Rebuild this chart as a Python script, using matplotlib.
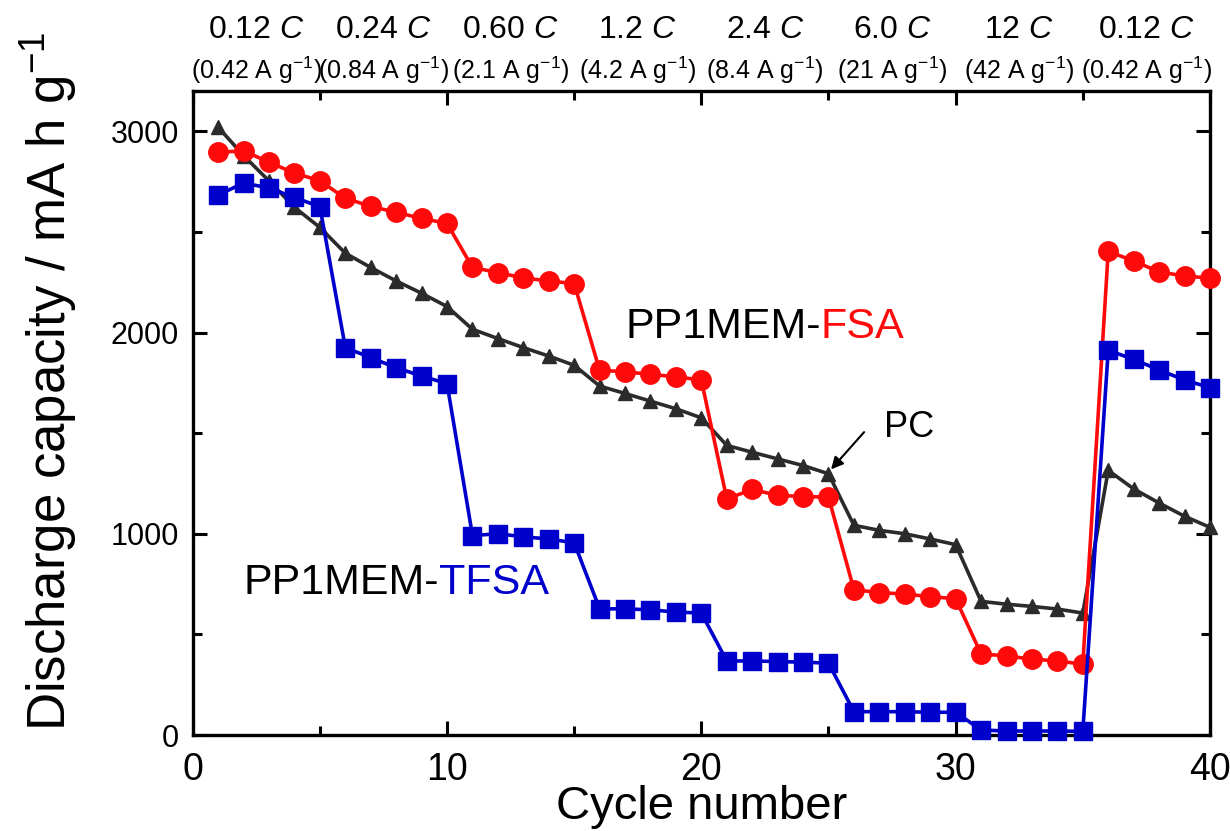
import matplotlib
matplotlib.use("Agg")
import matplotlib.pyplot as plt
import matplotlib.transforms as mtransforms
from matplotlib.ticker import MultipleLocator

# ---------------- data ----------------
cycles = list(range(1, 41))
fsa = [2895, 2903, 2846, 2792, 2754, 2667, 2627, 2597, 2567, 2542,
       2323, 2298, 2271, 2256, 2243, 1812, 1805, 1792, 1780, 1764,
       1173, 1220, 1191, 1185, 1182, 722, 708, 700, 688, 677,
       403, 393, 377, 368, 352, 2403, 2356, 2301, 2281, 2270]
tfsa = [2683, 2743, 2718, 2671, 2625, 1925, 1875, 1825, 1784, 1746,
        991, 1000, 985, 974, 955, 627, 627, 622, 611, 606,
        368, 368, 365, 362, 357, 116, 116, 116, 113, 113,
        25, 20, 20, 20, 18, 1911, 1867, 1814, 1764, 1726]
pc = [3020, 2879, 2753, 2622, 2522, 2394, 2323, 2256, 2195, 2129,
      2016, 1970, 1925, 1883, 1837, 1734, 1697, 1659, 1621, 1576,
      1439, 1405, 1372, 1339, 1298, 1042, 1017, 1000, 974, 946,
      664, 650, 639, 626, 606, 1315, 1223, 1153, 1087, 1032]

rate_labels = ["0.12 $C$", "0.24 $C$", "0.60 $C$", "1.2 $C$",
               "2.4 $C$", "6.0 $C$", "12 $C$", "0.12 $C$"]
current_labels = ["(0.42 A g$^{-1}$)", "(0.84 A g$^{-1}$)", "(2.1 A g$^{-1}$)",
                  "(4.2 A g$^{-1}$)", "(8.4 A g$^{-1}$)", "(21 A g$^{-1}$)",
                  "(42 A g$^{-1}$)", "(0.42 A g$^{-1}$)"]
rate_centers = [2.5, 7.5, 12.5, 17.5, 22.5, 27.5, 32.5, 37.5]

# ---------------- style ----------------
plt.rcParams['font.family'] = ['Liberation Sans', 'DejaVu Sans']
plt.rcParams['mathtext.fontset'] = 'custom'
plt.rcParams['mathtext.rm'] = 'Liberation Sans'
plt.rcParams['mathtext.it'] = 'Liberation Sans:italic'
plt.rcParams['mathtext.bf'] = 'Liberation Sans:bold'

RED = '#FF0A0A'
BLUE = '#0000CC'
BLACK = '#2B2B2B'

fig = plt.figure(figsize=(12.3, 8.31), dpi=100)
ax = fig.add_axes([0.1567, 0.1155, 0.8270, 0.7750])

ax.plot(cycles, pc, color=BLACK, lw=2.6, marker='^', ms=10, mec=BLACK,
        mfc=BLACK, zorder=3, clip_on=False)
ax.plot(cycles, fsa, color=RED, lw=2.6, marker='o', ms=14, mec=RED,
        mfc=RED, zorder=4, clip_on=False)
ax.plot(cycles, tfsa, color=BLUE, lw=2.6, marker='s', ms=12.5, mec=BLUE,
        mfc=BLUE, zorder=5, clip_on=False)

ax.set_xlim(0, 40)
ax.set_ylim(0, 3200)
ax.xaxis.set_major_locator(MultipleLocator(10))
ax.xaxis.set_minor_locator(MultipleLocator(5))
ax.yaxis.set_major_locator(MultipleLocator(1000))
ax.yaxis.set_minor_locator(MultipleLocator(500))

for s in ax.spines.values():
    s.set_linewidth(2.4)
    s.set_zorder(2)
ax.tick_params(which='both', direction='in', top=True, right=True, width=2.2)
ax.tick_params(which='major', length=10)
ax.tick_params(which='minor', length=6.5)
ax.tick_params(axis='x', which='major', labelsize=27, pad=12)
ax.tick_params(axis='y', which='major', labelsize=22, pad=10)

ax.set_xlabel('Cycle number', fontsize=34, labelpad=-2)
ax.set_ylabel('Discharge capacity / mA h g$^{-1}$', fontsize=38)
ax.yaxis.set_label_coords(-0.112, 0.55)

# top rate labels
trans = mtransforms.blended_transform_factory(ax.transData, fig.transFigure)
for xc, r, c in zip(rate_centers, rate_labels, current_labels):
    ax.text(xc, 0.964, r, transform=trans, ha='center', va='center',
            fontsize=23, clip_on=False)
    ax.text(xc, 0.916, c, transform=trans, ha='center', va='center',
            fontsize=18, clip_on=False)

# annotations
t = ax.text(17.0, 2026, 'PP1MEM-', fontsize=31, ha='left', va='center',
            color='black')
ax.annotate('FSA', xycoords=t, xy=(1, 0.5), va='center', ha='left',
            fontsize=31, color=RED)
t2 = ax.text(1.98, 756, 'PP1MEM-', fontsize=31, ha='left', va='center',
             color='black')
ax.annotate('TFSA', xycoords=t2, xy=(1, 0.5), va='center', ha='left',
            fontsize=31, color=BLUE)

ax.text(27.2, 1528, 'PC', fontsize=26, ha='left', va='center')
ax.annotate('', xy=(25.1, 1320), xytext=(26.4, 1505),
            arrowprops=dict(arrowstyle='-|>', color='black', lw=1.5,
                            mutation_scale=18, shrinkA=0, shrinkB=0))

fig.savefig('out.png', dpi=100)
